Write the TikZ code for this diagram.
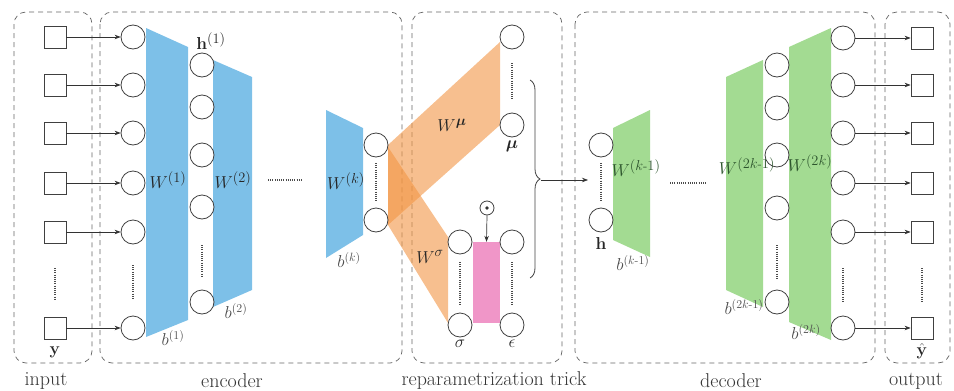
\documentclass[tikz,border=0pt]{standalone}
\usepackage{amsmath}
\usepackage{bm}
\usetikzlibrary{arrows.meta,decorations.pathreplacing}
\definecolor{encblue}{RGB}{125,192,232}
\definecolor{decgreen}{RGB}{163,219,146}
\definecolor{vaeorange}{RGB}{242,149,68}
\definecolor{mixpink}{RGB}{240,150,200}
\definecolor{dectext}{RGB}{45,85,45}
\tikzset{
  unit/.style={circle,draw=black!75,fill=white,line width=0.8pt,minimum size=24pt,inner sep=0pt},
  cell/.style={rectangle,draw=black!75,fill=white,line width=0.8pt,minimum size=22pt,inner sep=0pt},
  group/.style={draw=black!60,line width=0.7pt,dash pattern=on 5pt off 4pt,rounded corners=12pt},
  feed/.style={-{Stealth[length=6pt,width=4.5pt]},line width=0.7pt,draw=black!80},
  vdots/.style={line width=1.3pt,dash pattern=on 1pt off 1.2pt,draw=black!70},
  wlabel/.style={font=\fontsize{19}{21}\selectfont,inner sep=0pt,text=black!85},
  blabel/.style={font=\fontsize{17}{19}\selectfont,inner sep=0pt,text=black!70},
  caption/.style={font=\fontsize{20}{22}\selectfont,inner sep=0pt,text=black!80},
  orangeband/.style={fill=vaeorange,fill opacity=0.6},
}
\begin{document}
\begin{tikzpicture}[x=1pt,y=-1pt]
\useasboundingbox (0,0) rectangle (954,391);

% dashed group frames
\draw[group] (14,12) rectangle (92,363);
\draw[group] (100,12) rectangle (402,363);
\draw[group] (412,12) rectangle (562,363);
\draw[group] (575,12) rectangle (875,363);
\draw[group] (885,12) rectangle (950,363);

\node[caption] (capin)  at (46,381)  {input};
\node[caption] (capenc) at (232,381) {encoder};
\node[caption] (caprep) at (494,381) {reparametrization trick};
\node[caption] (capdec) at (731,381) {decoder};
\node[caption] (capout) at (916,381) {output};

% encoder weight layers
\fill[encblue] (146,28) -- (188,47) -- (188,320) -- (146,337) -- cycle;
\fill[encblue] (213,60) -- (252,77) -- (252,290) -- (213,307) -- cycle;
\fill[encblue] (326,110) -- (363,128) -- (363,235) -- (326,258) -- cycle;

% mean and deviation projections
\fill[orangeband] (388,145) -- (500,42) -- (500,125) -- (388,225) -- cycle;
\fill[orangeband] (388,147) -- (448,237) -- (448,323) -- (388,225) -- cycle;

% decoder weight layers
\fill[decgreen] (613,128) -- (650,110) -- (650,257) -- (613,240) -- cycle;
\fill[decgreen] (726,77) -- (763,60) -- (763,307) -- (726,290) -- cycle;
\fill[decgreen] (789,47) -- (831,28) -- (831,340) -- (789,322) -- cycle;

% input cells and input units
\foreach \k/\yy in {1/37,2/85,3/133,4/183,5/232,6/328}{
  \node[cell] (s\k) at (55,\yy) {};
  \node[unit] (i\k) at (133,\yy) {};
  \draw[feed] (s\k.east) -- (i\k.west);
}
\draw[vdots] (55,268) -- (55,300);
\draw[vdots] (133,265) -- (133,300);

% first hidden layer
\foreach \k/\yy in {1/65,2/107,3/155,4/207,5/302}{
  \node[unit] (h\k) at (202,\yy) {};
}
\draw[vdots] (202,245) -- (202,278);
\draw[vdots] (268,180) -- (303,180);

% k-th hidden layer
\node[unit] (ka) at (376,145) {};
\node[unit] (kb) at (376,220) {};
\draw[vdots] (376,163) -- (376,202);

% mean units
\node[unit] (mua) at (512,37) {};
\node[unit] (mub) at (512,125) {};
\draw[vdots] (512,63) -- (512,100);

% deviation and noise units
\node[fill=mixpink,minimum width=27pt,minimum height=81pt,inner sep=0pt] (pink) at (486.5,282.5) {};
\node[unit] (sa) at (460,242) {};
\node[unit] (sb) at (460,325) {};
\node[unit] (ea) at (512,242) {};
\node[unit] (eb) at (512,325) {};
\draw[vdots] (460,262) -- (460,305);
\draw[vdots] (512,262) -- (512,305);
\node[circle,draw=black!75,line width=0.8pt,minimum size=14pt,inner sep=0pt] (odot) at (487,208) {};
\fill[black!80] (odot.center) circle (1.8pt);
\draw[feed] (odot.south) -- (pink.north);

% brace collecting the latent code
\draw[line width=0.8pt,black!75,decorate,decoration={brace,amplitude=10pt}] (530,80) -- (530,278);
\coordinate (bracetip) at (541,180);
\coordinate (latentin) at (588,180);
\draw[feed] (bracetip) -- (latentin);

% latent units
\node[unit] (za) at (601,145) {};
\node[unit] (zb) at (601,220) {};
\draw[vdots] (601,163) -- (601,202);
\draw[vdots] (670,183) -- (707,183);

% decoder hidden layer
\foreach \k/\yy in {1/65,2/108,3/155,4/208,5/302}{
  \node[unit] (d\k) at (777,\yy) {};
}
\draw[vdots] (777,245) -- (777,280);

% output units and cells
\foreach \k/\yy in {1/38,2/85,3/133,4/183,5/232,6/328}{
  \node[unit] (o\k) at (843,\yy) {};
  \node[cell] (t\k) at (922,\yy) {};
  \draw[feed] (o\k.east) -- (t\k.west);
}
\draw[vdots] (843,268) -- (843,302);
\draw[vdots] (922,268) -- (922,302);

% labels
\node[wlabel] (ylab) at (55,352) {$\mathbf{y}$};
\node[wlabel] (h1lab) at (211,41) {$\mathbf{h}^{(1)}$};
\node[wlabel] (w1) at (168,180) {$W^{(1)}$};
\node[wlabel] (w2) at (233,180) {$W^{(2)}$};
\node[blabel] (b1) at (173,338) {$b^{(1)}$};
\node[blabel] (b2) at (236,311) {$b^{(2)}$};
\node[wlabel] (wk) at (346,181) {$W^{(k)}$};
\node[blabel] (bk) at (349,260) {$b^{(k)}$};
\node[wlabel] (wmu) at (452,125) {$W^{\bm{\mu}}$};
\node[wlabel] (mulab) at (512,146) {$\bm{\mu}$};
\node[wlabel] (wsig) at (430,257) {$W^{\sigma}$};
\node[wlabel] (siglab) at (460,344) {$\sigma$};
\node[wlabel] (epslab) at (512,344) {$\epsilon$};
\node[wlabel] (hlab) at (601,243) {$\mathbf{h}$};
\node[wlabel,text=dectext] (wkm) at (636,168) {$W^{(k\text{-}1)}$};
\node[blabel] (bkm) at (633,263) {$b^{(k\text{-}1)}$};
\node[wlabel,text=dectext] (w2km) at (747,166) {$W^{(2k\text{-}1)}$};
\node[blabel] (b2km) at (744,307) {$b^{(2k\text{-}1)}$};
\node[wlabel,text=dectext] (w2k) at (810,163) {$W^{(2k)}$};
\node[blabel] (b2k) at (806,332) {$b^{(2k)}$};
\node[wlabel] (yhat) at (922,351) {$\hat{\mathbf{y}}$};
\end{tikzpicture}
\end{document}
